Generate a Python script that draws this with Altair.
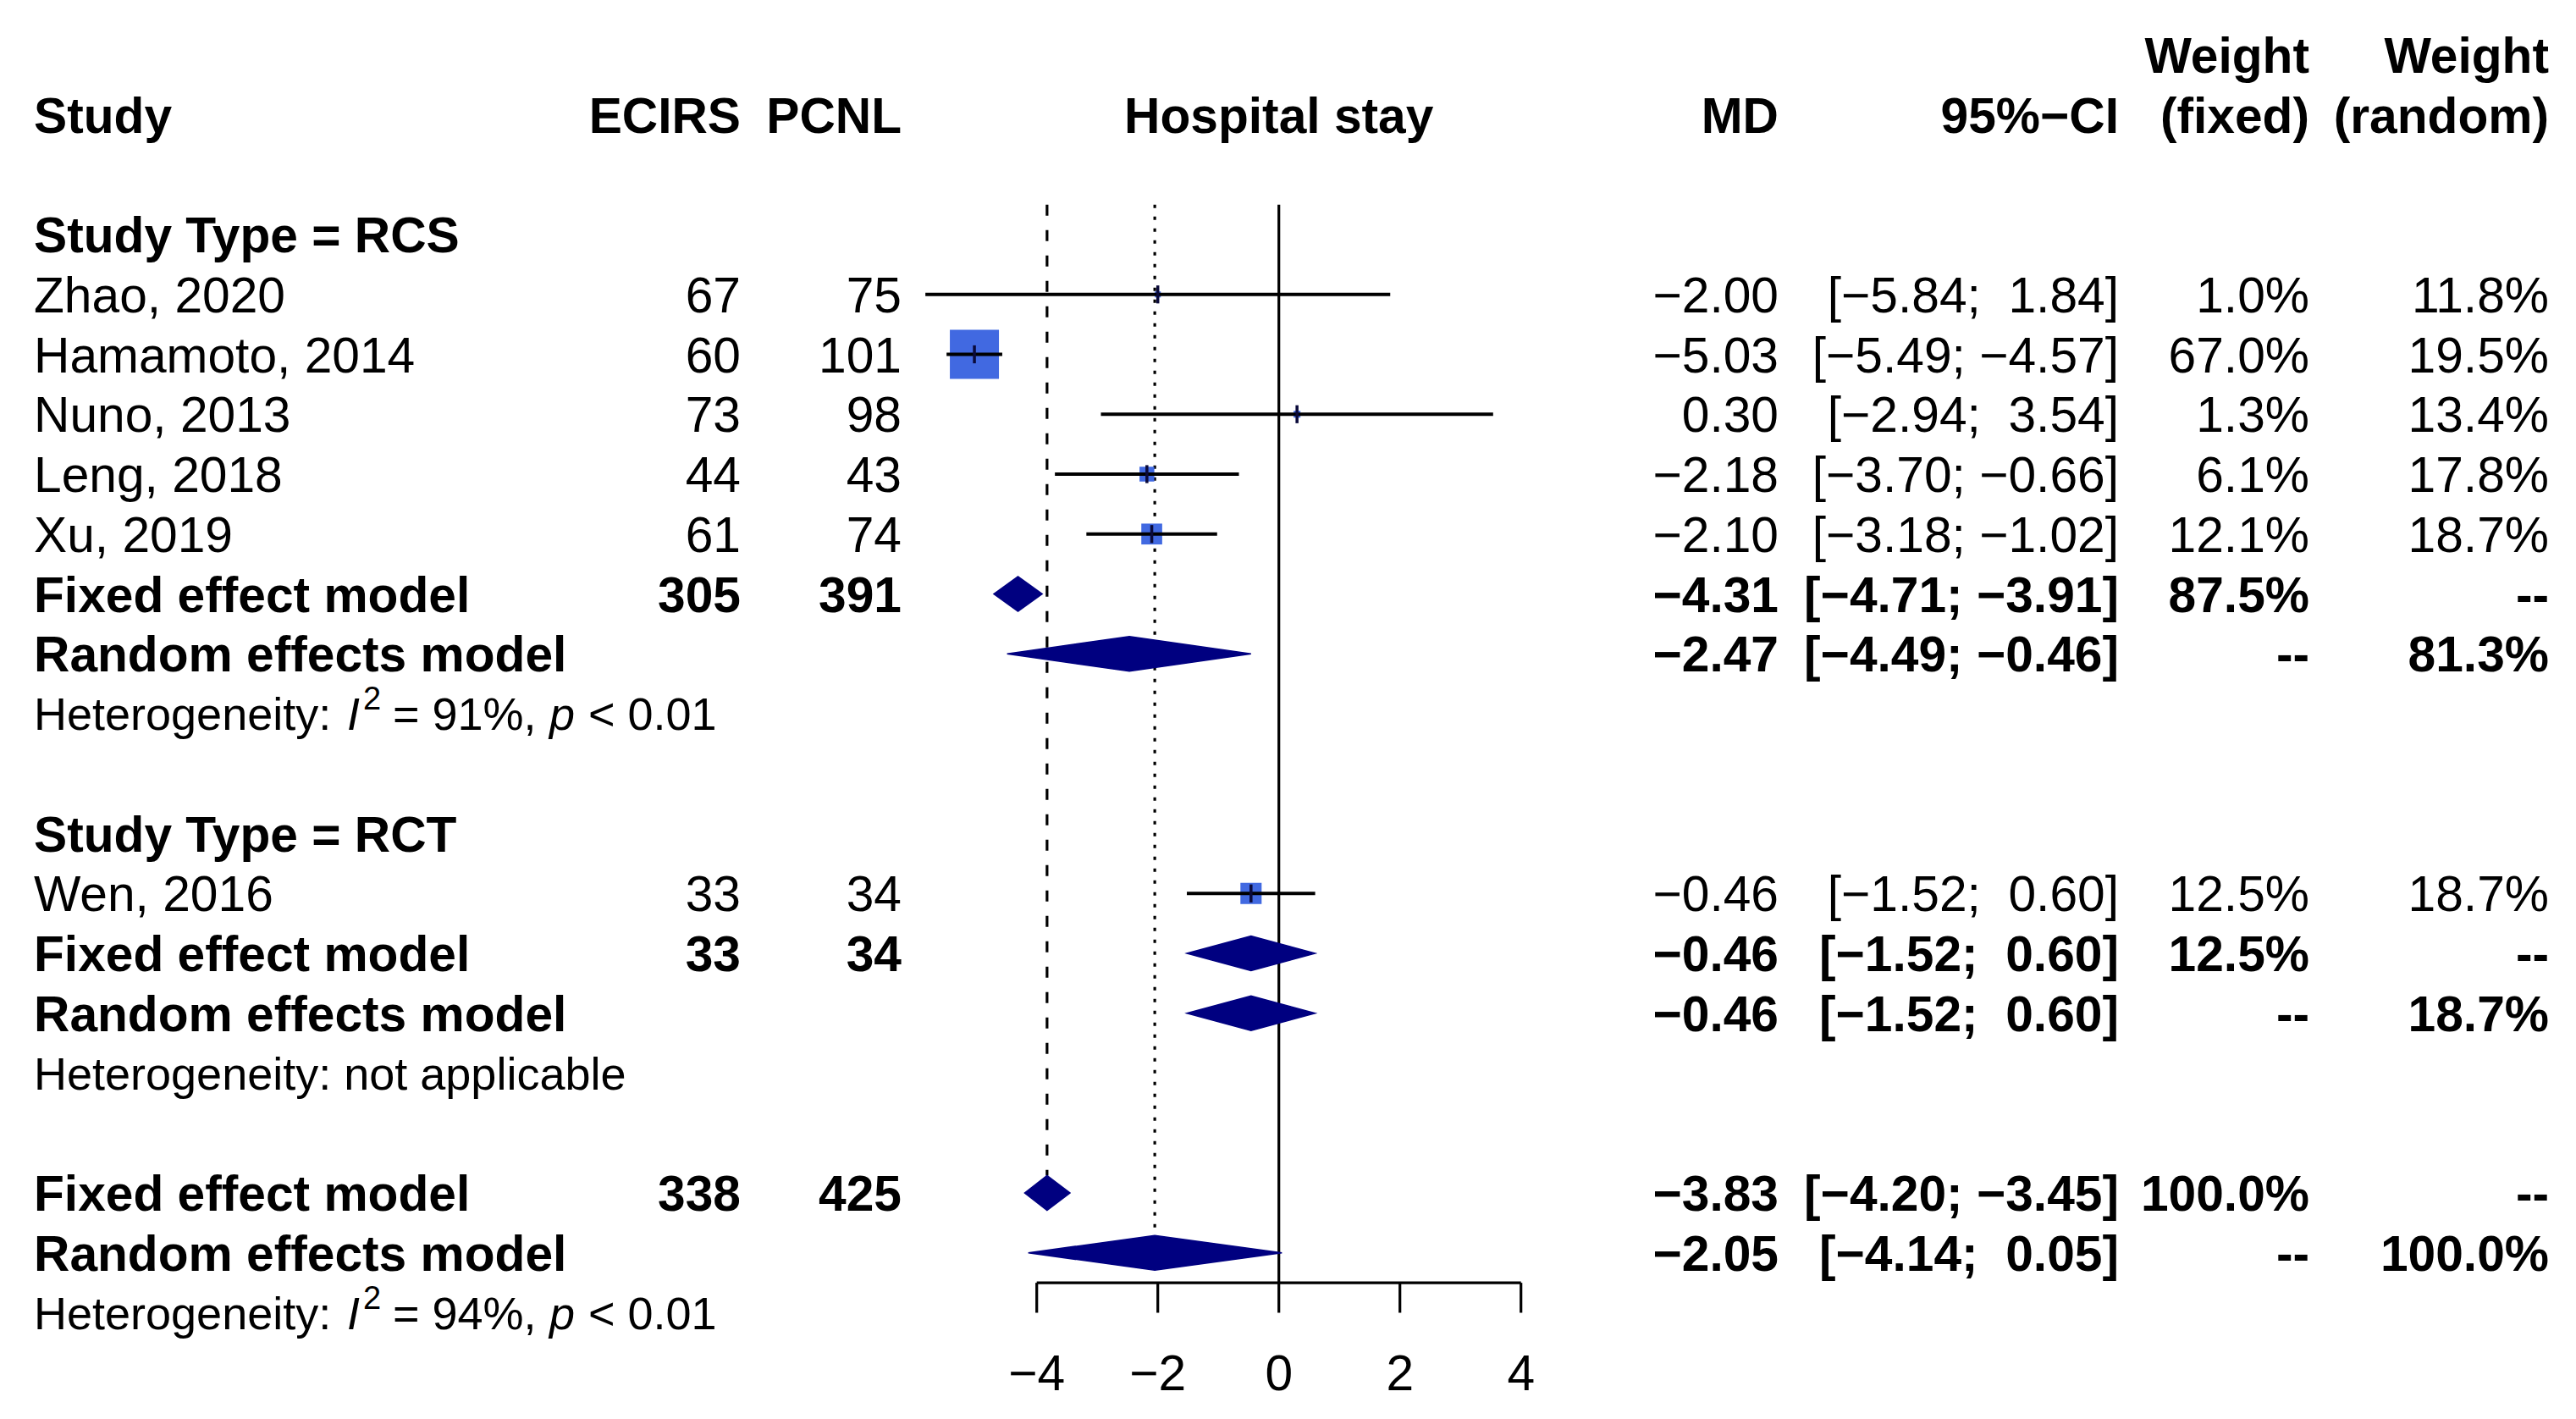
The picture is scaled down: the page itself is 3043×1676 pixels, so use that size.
import math
import altair as alt
import pandas as pd

FONT = "Liberation Sans, Arial, Helvetica, sans-serif"
MINUS = "\u2212"
NBSP = "\u00a0"

# ---------------- data ----------------
studies = ["Zhao, 2020", "Hamamoto, 2014", "Nuno, 2013", "Leng, 2018", "Xu, 2019", "Wen, 2016"]
study_rows = [3, 4, 5, 6, 7, 13]
n_ecirs = [67, 60, 73, 44, 61, 33]
n_pcnl = [75, 101, 98, 43, 74, 34]
md = [-2.00, -5.03, 0.30, -2.18, -2.10, -0.46]
ci_low = [-5.84, -5.49, -2.94, -3.70, -3.18, -1.52]
ci_up = [1.84, -4.57, 3.54, -0.66, -1.02, 0.60]
w_fixed = [1.0, 67.0, 1.3, 6.1, 12.1, 12.5]
w_random = [11.8, 19.5, 13.4, 17.8, 18.7, 18.7]

sum_labels = ["Fixed effect model", "Random effects model",
              "Fixed effect model", "Random effects model",
              "Fixed effect model", "Random effects model"]
sum_rows = [8, 9, 14, 15, 18, 19]
sum_ne = [305, None, 33, None, 338, None]
sum_nc = [391, None, 34, None, 425, None]
sum_md = [-4.31, -2.47, -0.46, -0.46, -3.83, -2.05]
sum_low = [-4.71, -4.49, -1.52, -1.52, -4.20, -4.14]
sum_up = [-3.91, -0.46, 0.60, 0.60, -3.45, 0.05]
sum_wf = [87.5, None, 12.5, None, 100.0, None]
sum_wr = [None, 81.3, None, 18.7, None, 100.0]

group_labels = ["Study Type = RCS", "Study Type = RCT"]
group_rows = [2, 12]

het_rows = [10, 20]
het_i2 = ["91%", "94%"]
het_p = ["0.01", "0.01"]
het_na_row = 16
het_na_text = "Heterogeneity: not applicable"

overall_fixed = -3.83
overall_random = -2.05
axis_ticks = [-4, -2, 0, 2, 4]

# ---------------- layout ----------------
W, H = 3020, 1655
X0_PX, UNIT_PX = 1502.7, 71.5
ROW0_PX, ROW_PX = 127.5, 70.75
xs = alt.Scale(domain=[-X0_PX / UNIT_PX, (W - X0_PX) / UNIT_PX], nice=False, zero=False)
ys = alt.Scale(domain=[-ROW0_PX / ROW_PX, (H - ROW0_PX) / ROW_PX], nice=False, zero=False, reverse=True)

FS = 58.7
FS_HET = 54
COLS = {"study": (32, "left"), "ne": (867, "right"), "nc": (1057, "right"),
        "md": (2093, "right"), "ci": (2495, "right"), "wf": (2720, "right"), "wr": (3003, "right")}


def num(v):
    s = f"{v:.2f}"
    return s.replace("-", MINUS)


def fmt_ci(lo, up):
    a = num(lo)
    b = num(up)
    a = a if a.startswith(MINUS) else NBSP + a
    b = b if b.startswith(MINUS) else NBSP + b
    return f"[{a};{NBSP}{b}]"


def pct(v):
    return "--" if v is None else f"{v:.1f}%"


# ---------------- text table ----------------
cells = []


def add(row, col, text, bold):
    cells.append({"row": row, "col": col, "text": text.replace(" ", NBSP), "bold": bold})


# headers
add(-1, "wf", "Weight", True)
add(-1, "wr", "Weight", True)
add(0, "study", "Study", True)
add(0, "ne", "ECIRS", True)
add(0, "nc", "PCNL", True)
add(0, "md", "MD", True)
add(0, "ci", "95%" + MINUS + "CI", True)
add(0, "wf", "(fixed)", True)
add(0, "wr", "(random)", True)

for lab, r in zip(group_labels, group_rows):
    add(r, "study", lab, True)

for i, r in enumerate(study_rows):
    add(r, "study", studies[i], False)
    add(r, "ne", str(n_ecirs[i]), False)
    add(r, "nc", str(n_pcnl[i]), False)
    add(r, "md", num(md[i]), False)
    add(r, "ci", fmt_ci(ci_low[i], ci_up[i]), False)
    add(r, "wf", pct(w_fixed[i]), False)
    add(r, "wr", pct(w_random[i]), False)

for i, r in enumerate(sum_rows):
    add(r, "study", sum_labels[i], True)
    if sum_ne[i] is not None:
        add(r, "ne", str(sum_ne[i]), True)
        add(r, "nc", str(sum_nc[i]), True)
    add(r, "md", num(sum_md[i]), True)
    add(r, "ci", fmt_ci(sum_low[i], sum_up[i]), True)
    add(r, "wf", pct(sum_wf[i]), True)
    add(r, "wr", pct(sum_wr[i]), True)

table = pd.DataFrame(cells)

layers = []

# ---------------- reference lines ----------------
ref = pd.DataFrame({"x": [0.0, overall_fixed, overall_random],
                    "y1": [1.5, 1.5, 1.5],
                    "y2": [19.5, 18 - 0.29, 19 - 0.29],
                    "kind": ["solid", "dashed", "dotted"]})
dashes = {"solid": None, "dashed": [13, 17], "dotted": [4, 10]}
for kind, dash in dashes.items():
    mk = dict(color="black", strokeWidth=3.2)
    if dash is not None:
        mk["strokeDash"] = dash
    layers.append(
        alt.Chart(ref).transform_filter(alt.datum.kind == kind).mark_rule(**mk).encode(
            x=alt.X("x:Q", scale=xs, axis=None),
            y=alt.Y("y1:Q", scale=ys, axis=None),
            y2="y2:Q",
        )
    )

# ---------------- study squares, CIs, ticks ----------------
sq = pd.DataFrame({"row": study_rows, "md": md, "lo": ci_low, "up": ci_up, "w": w_fixed})
sq["area"] = [(58 * math.sqrt(w / 67.0)) ** 2 for w in w_fixed]
sq["t1"] = sq["row"] - 0.15
sq["t2"] = sq["row"] + 0.15

layers.append(
    alt.Chart(sq).mark_square(filled=True, color="#4169E1", opacity=1).encode(
        x=alt.X("md:Q", scale=xs, axis=None),
        y=alt.Y("row:Q", scale=ys, axis=None),
        size=alt.Size("area:Q", scale=None, legend=None),
    )
)
layers.append(
    alt.Chart(sq).mark_rule(color="black", strokeWidth=4).encode(
        x=alt.X("lo:Q", scale=xs, axis=None), x2="up:Q",
        y=alt.Y("row:Q", scale=ys, axis=None),
    )
)
layers.append(
    alt.Chart(sq).mark_rule(color="#0a0a3a", strokeWidth=3.5).encode(
        x=alt.X("md:Q", scale=xs, axis=None),
        y=alt.Y("t1:Q", scale=ys, axis=None), y2="t2:Q",
    )
)

# ---------------- diamonds ----------------
HALF = 0.29
dm = []
for i, r in enumerate(sum_rows):
    for k, (xv, a, b) in enumerate([(sum_low[i], r, r), (sum_md[i], r - HALF, r + HALF), (sum_up[i], r, r)]):
        dm.append({"id": i, "k": k, "x": xv, "ya": a, "yb": b})
dm = pd.DataFrame(dm)
layers.append(
    alt.Chart(dm).mark_area(orient="vertical", color="#000080", opacity=1, interpolate="linear",
                            stroke="#000080", strokeWidth=1.5).encode(
        x=alt.X("x:Q", scale=xs, axis=None),
        y=alt.Y("ya:Q", scale=ys, axis=None, stack=None), y2="yb:Q",
        detail="id:N",
    )
)

# ---------------- axis ----------------
ax = pd.DataFrame({"t": axis_ticks})
ax["lab"] = [str(t).replace("-", MINUS) for t in axis_ticks]
ax["y0"] = 19.5
ax["y1"] = 20.0
ax["yl"] = 21.0
layers.append(
    alt.Chart(pd.DataFrame({"a": [min(axis_ticks)], "b": [max(axis_ticks)], "y": [19.5]})).mark_rule(
        color="black", strokeWidth=3.2).encode(
        x=alt.X("a:Q", scale=xs, axis=None), x2="b:Q",
        y=alt.Y("y:Q", scale=ys, axis=None),
    )
)
layers.append(
    alt.Chart(ax).mark_rule(color="black", strokeWidth=3.2).encode(
        x=alt.X("t:Q", scale=xs, axis=None),
        y=alt.Y("y0:Q", scale=ys, axis=None), y2="y1:Q",
    )
)
layers.append(
    alt.Chart(ax).mark_text(font=FONT, fontSize=FS, align="center", baseline="alphabetic",
                            dy=0.358 * FS, color="black").encode(
        x=alt.X("t:Q", scale=xs, axis=None),
        y=alt.Y("yl:Q", scale=ys, axis=None),
        text="lab:N",
    )
)

# ---------------- table text ----------------
for col, (px, align) in COLS.items():
    for bold in (False, True):
        sub = table[(table["col"] == col) & (table["bold"] == bold)]
        if len(sub) == 0:
            continue
        layers.append(
            alt.Chart(sub).mark_text(font=FONT, fontSize=FS, align=align, baseline="alphabetic",
                                     dy=0.358 * FS, fontWeight="bold" if bold else "normal",
                                     color="black").encode(
                x=alt.value(px),
                y=alt.Y("row:Q", scale=ys, axis=None),
                text="text:N",
            )
        )

# header centred over the effect axis
layers.append(
    alt.Chart(pd.DataFrame({"x": [0.0], "row": [0], "text": ["Hospital" + NBSP + "stay"]})).mark_text(
        font=FONT, fontSize=FS, align="center", baseline="alphabetic", dy=0.358 * FS,
        fontWeight="bold", color="black").encode(
        x=alt.X("x:Q", scale=xs, axis=None),
        y=alt.Y("row:Q", scale=ys, axis=None),
        text="text:N",
    )
)

# ---------------- heterogeneity lines ----------------
het = []
for r, i2, p in zip(het_rows, het_i2, het_p):
    het.append({"row": r, "seg": "a", "text": "Heterogeneity:"})
    het.append({"row": r, "seg": "I", "text": "I"})
    het.append({"row": r, "seg": "sup", "text": "2"})
    het.append({"row": r, "seg": "b", "text": f"= {i2},".replace(" ", NBSP)})
    het.append({"row": r, "seg": "p", "text": "p"})
    het.append({"row": r, "seg": "c", "text": f"< {p}".replace(" ", NBSP)})
het.append({"row": het_na_row, "seg": "a", "text": het_na_text.replace(" ", NBSP)})
het = pd.DataFrame(het)

HX = 32
seg_specs = {
    "a": (HX, FS_HET, "normal", 0),
    "I": (HX + 370, FS_HET, "italic", 0),
    "sup": (HX + 389, 38, "normal", -24),
    "b": (HX + 424, FS_HET, "normal", 0),
    "p": (HX + 609, FS_HET, "italic", 0),
    "c": (HX + 655, FS_HET, "normal", 0),
}
for seg, (px, fs, style, raise_) in seg_specs.items():
    layers.append(
        alt.Chart(het).transform_filter(alt.datum.seg == seg).mark_text(
            font=FONT, fontSize=fs, fontStyle=style, align="left", baseline="alphabetic",
            dy=0.358 * FS_HET + raise_, color="black").encode(
            x=alt.value(px),
            y=alt.Y("row:Q", scale=ys, axis=None),
            text="text:N",
        )
    )

chart = alt.layer(*layers).properties(
    width=W, height=H, autosize="none", padding=0, background="white"
).configure_view(strokeWidth=0)

chart.save("out.html", embed_options={"renderer": "svg", "actions": False})
